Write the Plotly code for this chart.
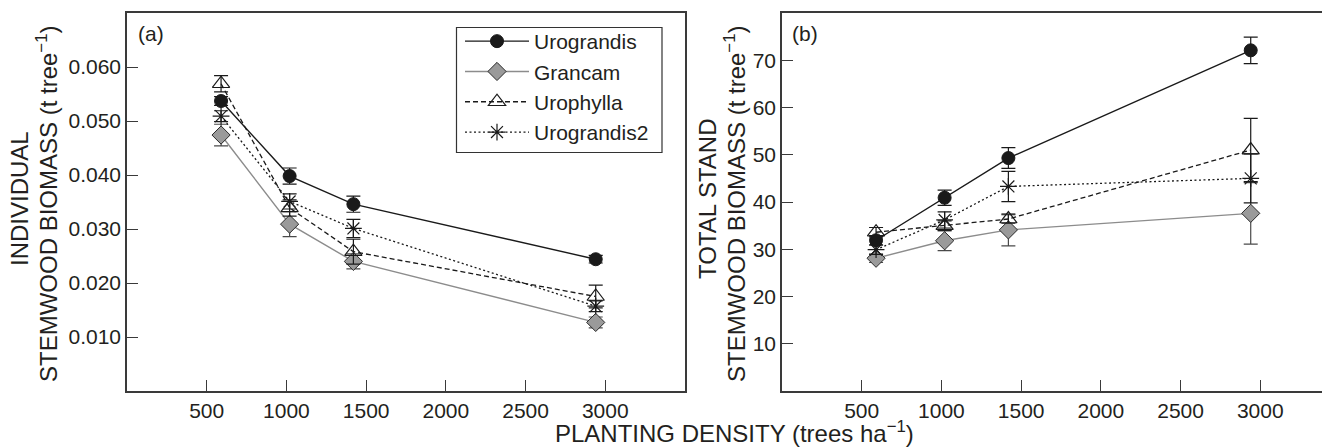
import plotly.graph_objects as go

# ---------------- data ----------------
density = [590, 1020, 1420, 2940]
series_names = ["Urograndis", "Grancam", "Urophylla", "Urograndis2"]

# (a) individual stemwood biomass (t tree-1)
ind_urograndis = [0.0537, 0.0398, 0.0346, 0.0244]
ind_urograndis_err = [0.0008, 0.0015, 0.0015, 0.0007]
ind_grancam = [0.0474, 0.0309, 0.0240, 0.0127]
ind_grancam_err = [0.0020, 0.0023, 0.0014, 0.0010]
ind_urophylla = [0.0569, 0.0339, 0.0258, 0.0175]
ind_urophylla_err = [0.0015, 0.0015, 0.0023, 0.0021]
ind_urograndis2 = [0.0509, 0.0351, 0.0301, 0.0157]
ind_urograndis2_err = [0.0010, 0.0014, 0.0017, 0.0010]

# (b) total stand stemwood biomass
tot_urograndis = [31.9, 40.9, 49.3, 72.1]
tot_urograndis_err = [1.0, 1.6, 2.2, 2.8]
tot_grancam = [28.1, 31.8, 34.1, 37.6]
tot_grancam_err = [0.9, 2.1, 3.4, 6.5]
tot_urophylla = [33.6, 35.0, 36.4, 51.0]
tot_urophylla_err = [1.0, 1.0, 0.9, 6.7]
tot_urograndis2 = [29.9, 36.2, 43.3, 45.0]
tot_urograndis2_err = [1.0, 1.7, 3.2, 5.2]

x_ticks = [500, 1000, 1500, 2000, 2500, 3000]
ya_ticks = [0.010, 0.020, 0.030, 0.040, 0.050, 0.060]
yb_ticks = [10, 20, 30, 40, 50, 60, 70]

# ---------------- styles ----------------
FONT = "Liberation Sans, Arial, Helvetica, sans-serif"
TXT = "#231f20"
AX = "#3a3a3a"

styles = {
    "Urograndis": dict(line=dict(color="#1a1a1a", width=1.4),
                       marker=dict(symbol="circle", size=13, color="#1a1a1a",
                                   line=dict(color="#1a1a1a", width=1)),
                       err="#1a1a1a"),
    "Grancam": dict(line=dict(color="#8c8c8c", width=1.4),
                    marker=dict(symbol="diamond", size=14, color="#9a9a9a",
                                line=dict(color="#2a2a2a", width=1)),
                    err="#4a4a4a"),
    "Urophylla": dict(line=dict(color="#1a1a1a", width=1.3, dash="5px,3px"),
                      marker=dict(symbol="triangle-up-open", size=15, color="#1a1a1a",
                                  line=dict(color="#1a1a1a", width=1.2)),
                      err="#1a1a1a"),
    "Urograndis2": dict(line=dict(color="#1a1a1a", width=1.3, dash="2px,2.5px"),
                        marker=dict(symbol="asterisk-open", size=14, color="#1a1a1a",
                                    line=dict(color="#1a1a1a", width=1.2)),
                        err="#1a1a1a"),
}

panel_a = {
    "Urograndis": (ind_urograndis, ind_urograndis_err),
    "Grancam": (ind_grancam, ind_grancam_err),
    "Urophylla": (ind_urophylla, ind_urophylla_err),
    "Urograndis2": (ind_urograndis2, ind_urograndis2_err),
}
panel_b = {
    "Urograndis": (tot_urograndis, tot_urograndis_err),
    "Grancam": (tot_grancam, tot_grancam_err),
    "Urophylla": (tot_urophylla, tot_urophylla_err),
    "Urograndis2": (tot_urograndis2, tot_urograndis2_err),
}

fig = go.Figure()
order = ["Grancam", "Urograndis2", "Urophylla", "Urograndis"]  # draw order
for panel, (xa, ya) in ((panel_a, ("x", "y")), (panel_b, ("x2", "y2"))):
    for name in order:
        vals, errs = panel[name]
        st = styles[name]
        fig.add_trace(go.Scatter(
            x=density, y=vals, name=name, mode="lines+markers",
            line=st["line"], marker=st["marker"],
            error_y=dict(type="data", array=errs, visible=True,
                         color=st["err"], thickness=1.2, width=7),
            xaxis=xa, yaxis=ya,
            showlegend=(xa == "x"), legendrank=series_names.index(name),
        ))

# page offset (browser body margin) compensation
OFF = 8
W, H = 1330 - OFF, 447 - OFF
def px(v):
    return v - OFF

top, bottom = px(13), px(391)
a_left, a_right = px(127), px(685)
b_left = px(782)
b_range_max = 3500 * (W - b_left) / (a_right - a_left)

def paper_xy(x_page, y_page):
    return px(x_page) / W, (bottom - px(y_page)) / (bottom - top)

axis_common = dict(showline=True, linecolor=AX, linewidth=1.5, ticks="inside",
                   ticklen=11, tickwidth=1.3, tickcolor=AX, showgrid=False,
                   zeroline=False, tickfont=dict(family=FONT, size=21, color=TXT))

lx, ly = paper_xy(460, 21)
fig.update_layout(
    width=W, height=H,
    margin=dict(l=0, r=0, t=top, b=H - bottom),
    paper_bgcolor="white", plot_bgcolor="white",
    font=dict(family=FONT, color=TXT),
    xaxis=dict(domain=[a_left / W, a_right / W], range=[0, 3500], tickvals=x_ticks,
               mirror=True, anchor="y", **axis_common),
    yaxis=dict(domain=[0, 1], range=[0, 0.070], tickvals=ya_ticks, tickformat=".3f",
               mirror=True, anchor="x", **axis_common),
    xaxis2=dict(domain=[b_left / W, 1], range=[0, b_range_max], tickvals=x_ticks,
                mirror=True, anchor="y2", **axis_common),
    yaxis2=dict(domain=[0, 1], range=[0, 80], tickvals=yb_ticks,
                mirror=False, anchor="x2", **axis_common),
    legend=dict(x=lx, y=ly, xanchor="left", yanchor="top",
                borderwidth=0, bgcolor="rgba(0,0,0,0)",
                font=dict(family=FONT, size=21, color=TXT), itemwidth=64,
                tracegroupgap=0, traceorder="normal"),
    showlegend=True,
)

# legend frame
x0, y0 = paper_xy(456.5, 27.5)
x1, y1 = paper_xy(662, 152.5)
fig.add_shape(type="rect", xref="paper", yref="paper", x0=x0, y0=y0, x1=x1, y1=y1,
              line=dict(color="#333333", width=1.2), fillcolor="rgba(0,0,0,0)", layer="below")

ann = []
def add_text(x_page, y_page, text, size, angle=0):
    x, y = paper_xy(x_page, y_page)
    ann.append(dict(x=x, y=y, xref="paper", yref="paper", text=text, showarrow=False,
                    xanchor="center", yanchor="middle", textangle=angle,
                    font=dict(family=FONT, size=size, color=TXT)))

add_text(151, 33, "(a)", 21)
add_text(805, 33, "(b)", 21)
add_text(19, 199, "INDIVIDUAL", 24, -90)
add_text(47, 204, "STEMWOOD BIOMASS (t tree<sup>−1</sup>)", 24, -90)
add_text(707, 199, "TOTAL STAND", 24, -90)
add_text(735, 204, "STEMWOOD BIOMASS (t tree<sup>−1</sup>)", 24, -90)
add_text(734, 432, "PLANTING DENSITY (trees ha<sup>−1</sup>)", 24)
fig.update_layout(annotations=ann)

fig.write_html("out.html")
